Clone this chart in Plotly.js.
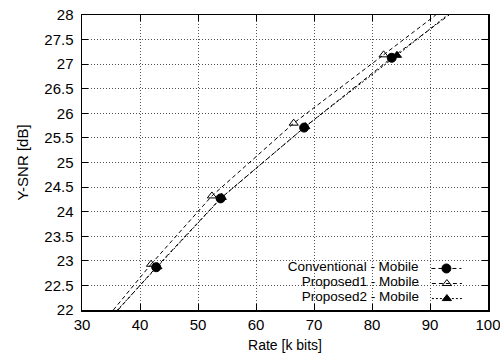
<!DOCTYPE html>
<html><head><meta charset="utf-8">
<script src="https://cdn.plot.ly/plotly-3.0.1.min.js"></script>
<style>html,body{margin:0;padding:0;background:#fff}#chart{width:500px;height:353px}</style>
</head><body><div id="chart"></div>
<script>
// ---- data ----
const seriesNames = ['Conventional - Mobile', 'Proposed1 - Mobile', 'Proposed2 - Mobile'];
const convRate  = [42.8, 53.9, 68.3, 83.4];
const convSNR   = [22.87, 24.27, 25.71, 27.13];
const prop1Rate = [41.9, 52.4, 66.5, 82.0];
const prop1SNR  = [22.93, 24.32, 25.80, 27.19];
const prop2Rate = [43.0, 54.1, 68.5, 84.3];
const prop2SNR  = [22.88, 24.29, 25.73, 27.18];
// where each fitted line meets the frame
const convEndRate  = [36.2, 93.3];
const convEndSNR   = [22.0, 28.0];
const prop1EndRate = [35.4, 91.0];
const prop1EndSNR  = [22.0, 28.0];
const prop2EndRate = [36.1, 93.0];
const prop2EndSNR  = [22.0, 28.0];

const FONT = 'Liberation Sans, Arial, sans-serif';
const styles = [
  {dash: '4px,3px', symbol: 'circle', size: 9},
  {dash: '4px,3px', symbol: 'triangle-up-open', size: 8},
  {dash: '2px,2px', symbol: 'triangle-up', size: 8}
];
const sets = [
  [convRate, convSNR, convEndRate, convEndSNR],
  [prop1Rate, prop1SNR, prop1EndRate, prop1EndSNR],
  [prop2Rate, prop2SNR, prop2EndRate, prop2EndSNR]
];
const legendIds = ['legend', 'legend2', 'legend3'];
const traces = [];
sets.forEach((s, i) => {
  const [rx, ry, ex, ey] = s;
  const n = rx.length;
  const line = {color: '#000', width: 1, dash: styles[i].dash};
  traces.push({x: [ex[0], rx[0]], y: [ey[0], ry[0]], mode: 'lines', line: line, showlegend: false, hoverinfo: 'skip'});
  traces.push({x: [rx[n-1], ex[1]], y: [ry[n-1], ey[1]], mode: 'lines', line: line, showlegend: false, hoverinfo: 'skip'});
  traces.push({x: rx, y: ry, mode: 'lines+markers', name: ' ', legend: legendIds[i],
    line: line,
    marker: {symbol: styles[i].symbol, size: styles[i].size, color: '#000', line: {color: '#000', width: 1}}});
});

const rowY = [0.140, 0.089, 0.038];
const layout = {
  width: 500, height: 353,
  margin: {l: 82, r: 12, t: 15, b: 43},
  paper_bgcolor: '#fff', plot_bgcolor: '#fff',
  font: {family: FONT, color: '#000', size: 15},
  xaxis: {range: [30, 100], dtick: 10, showgrid: true, gridcolor: '#555', griddash: '1px,2px', gridwidth: 1,
    ticks: 'inside', ticklen: 6, tickcolor: '#000', showline: true, linecolor: '#000', linewidth: 1.5, mirror: 'ticks',
    zeroline: false, tickfont: {size: 15}, ticklabeloverflow: 'allow',
    title: {text: 'Rate [k bits]', font: {size: 14}, standoff: 8}},
  yaxis: {range: [22, 28], dtick: 0.5, showgrid: true, gridcolor: '#555', griddash: '1px,2px', gridwidth: 1,
    ticks: 'inside', ticklen: 6, tickcolor: '#000', showline: true, linecolor: '#000', linewidth: 1.5, mirror: 'ticks',
    zeroline: false, tickfont: {size: 15}, ticklabelstandoff: 4, ticklabeloverflow: 'allow',
    title: {text: 'Y-SNR [dB]', font: {size: 15}, standoff: 12}},
  shapes: [{type: 'rect', xref: 'paper', yref: 'paper', x0: 0.414, x1: 0.995, y0: 0.005, y1: 0.155,
    fillcolor: '#fff', line: {width: 0}, layer: 'between'}],
  showlegend: true
};
legendIds.forEach((id, i) => {
  layout[id] = {x: 0.97, xanchor: 'right', y: rowY[i], yanchor: 'middle', bgcolor: 'rgba(0,0,0,0)',
    borderwidth: 0, font: {size: 13.5, family: FONT},
    title: {text: seriesNames[i], side: 'left', font: {size: 13.5, family: FONT}}};
});
Plotly.newPlot('chart', traces, layout, {displayModeBar: false, staticPlot: true});
</script>
</body></html>
